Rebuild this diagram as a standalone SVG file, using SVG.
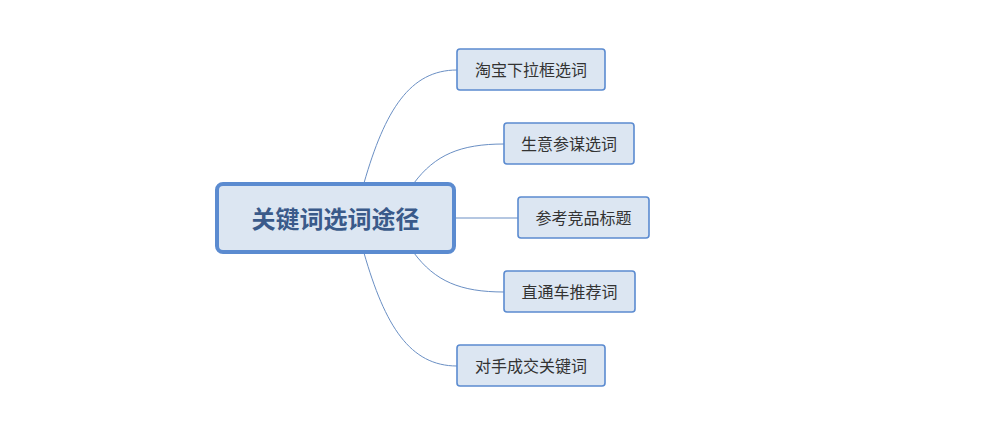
<svg xmlns="http://www.w3.org/2000/svg" width="997" height="429" viewBox="0 0 997 429">
<style>
.c{fill:none;stroke:#6a8fc4;stroke-width:1}
.n{fill:#dce6f2;stroke:#5b8bd0;stroke-width:1.6}
.t{font-family:"Liberation Sans","Noto Sans CJK SC",sans-serif;font-size:16px;fill:#333;text-anchor:middle;dominant-baseline:central}
</style>
<rect width="997" height="429" fill="#fff"/>
<g id="connectors">
<path class="c" d="M364,183 C385,110 410,70 457,70"/>
<path class="c" d="M414,183 C435,155 460,144 504,144"/>
<path class="c" d="M454,218 L518,218"/>
<path class="c" d="M414,253 C435,281 460,292 504,292"/>
<path class="c" d="M364,253 C385,326 410,366 457,366"/>
</g>
<g id="root"><rect x="217" y="184" width="237" height="68" rx="6" fill="#dce6f2" stroke="#5b8bd0" stroke-width="4"/>
<text x="335.5" y="219" class="t" style="font-size:24px;font-weight:bold;fill:#3a5a8a">关键词选词途径</text></g>
<g id="n1"><rect class="n" x="457" y="49" width="148" height="41" rx="3"/><text class="t" x="531" y="70">淘宝下拉框选词</text></g>
<g id="n2"><rect class="n" x="504" y="123" width="130" height="41" rx="3"/><text class="t" x="569" y="144">生意参谋选词</text></g>
<g id="n3"><rect class="n" x="518" y="197" width="131" height="41" rx="3"/><text class="t" x="583.5" y="218">参考竞品标题</text></g>
<g id="n4"><rect class="n" x="504" y="271" width="131" height="41" rx="3"/><text class="t" x="569.5" y="292">直通车推荐词</text></g>
<g id="n5"><rect class="n" x="457" y="345" width="148" height="41" rx="3"/><text class="t" x="531" y="366">对手成交关键词</text></g>
</svg>
